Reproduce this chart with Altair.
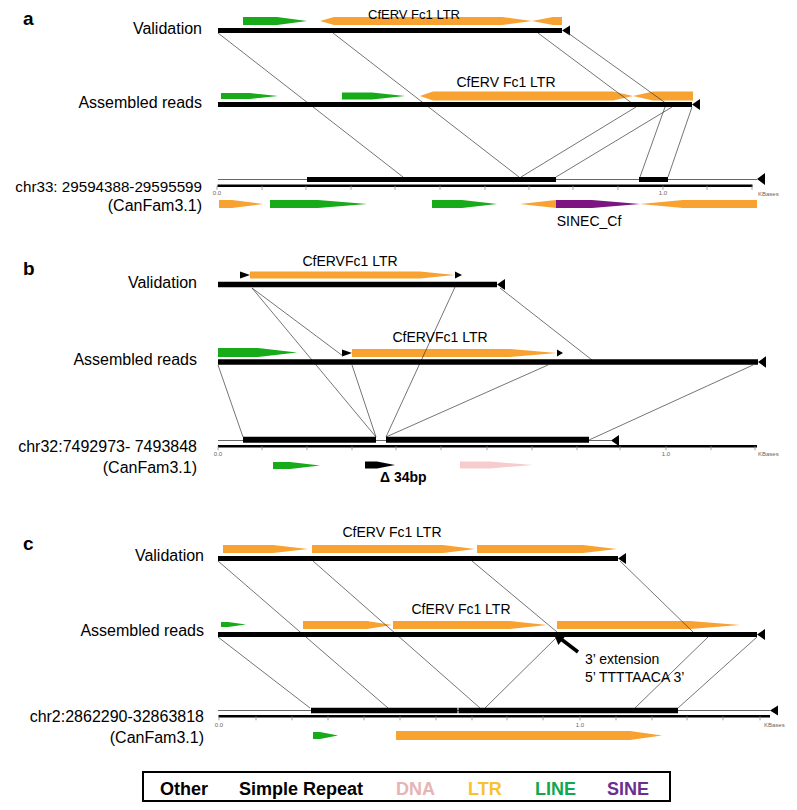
import altair as alt
import pandas as pd

FONT = "Liberation Sans"
W, H = 781, 794
XS = alt.Scale(domain=[8, 789], nice=False, zero=False)
YS = alt.Scale(domain=[8, 802], nice=False, zero=False, reverse=True)

ORANGE = "#f8a231"
GREEN = "#17ab1a"
PURPLE = "#7c1580"
PINK = "#f7cccc"
BLACK = "#000000"

# ---------------- data (figure coordinates) ----------------
# repeat annotation arrows: colour, centre line, x break points, half heights
ARROW_COLOR = [GREEN, ORANGE, GREEN, GREEN, ORANGE, ORANGE, GREEN, GREEN, ORANGE, PURPLE, ORANGE,
               BLACK, ORANGE, BLACK, GREEN, BLACK, ORANGE, BLACK, GREEN, BLACK, PINK,
               ORANGE, ORANGE, ORANGE, GREEN, ORANGE, ORANGE, ORANGE, GREEN, ORANGE]
ARROW_YC = [21, 21, 96, 96, 96, 204, 204, 204, 204, 204, 204,
            275, 275, 275, 352.5, 353, 353, 353, 465.5, 465, 465,
            549, 549, 549, 624.5, 625, 625, 625, 735.5, 735.5]
ARROW_X = [[243, 277, 307], [320, 334, 502, 532, 553, 562], [221, 250, 278], [342, 372, 405],
           [420, 433, 613, 633, 653, 693], [219, 232, 263], [270, 318, 367], [432, 462, 497],
           [520, 556], [556, 592, 640], [640, 683, 757],
           [240, 250], [250, 420, 455], [455, 462], [218, 258, 297], [342, 352], [352, 510, 557],
           [557, 563], [273, 290, 320], [365, 377, 395], [460, 490, 533],
           [223, 273, 308], [312, 443, 475], [477, 583, 617], [221, 228, 246], [303, 367, 392],
           [393, 510, 547], [557, 690, 740], [313, 320, 338], [396, 630, 662]]
ARROW_HALF = [[4, 4, 0], [0, 4, 4, 0, 4, 4], [3, 3, 0], [3.5, 3.5, 0],
              [0, 4.5, 4.5, 0, 4.5, 4.5], [4, 4, 0], [4, 4, 0], [4, 4, 0],
              [0, 4], [4, 4, 0], [0, 4, 4],
              [3.5, 0], [3.5, 3.5, 0], [3.5, 0], [4.5, 4.5, 0], [3.5, 0], [4, 4, 0],
              [3.5, 0], [3.5, 3.5, 0], [3.5, 3.5, 0], [3.5, 3.5, 0],
              [4, 4, 0], [4, 4, 0], [4, 4, 0], [2.5, 2.5, 0], [4, 4, 0],
              [4, 4, 0], [4, 4, 0], [3.5, 3.5, 0], [4.5, 4.5, 0]]

# end-of-sequence markers (left pointing triangles): tip x, centre y, half height
END_TIP_X = [562, 692, 757, 497, 758, 611, 618, 757, 770]
END_YC = [30.5, 104.5, 179, 284.5, 362, 440.5, 558.5, 634.5, 710.5]
END_HALF = [5, 5.5, 6, 5.5, 5.8, 5.5, 5.5, 5.5, 5]
END_LEN = 8

# thick sequence bars: start, end, centre y, half thickness
BAR_X1 = [218, 218, 307, 639, 218, 218, 243, 386, 218, 218, 311, 458.5]
BAR_X2 = [562, 692, 556, 668, 497, 758, 376, 589, 618, 757, 457.5, 678]
BAR_YC = [30.5, 104.5, 179.5, 179.5, 284.5, 362, 439.7, 439.7, 558.5, 634.5, 710.5, 710.5]
BAR_HALF = [2.5, 2.5, 2.5, 2.5, 2.8, 2.8, 3, 3, 2.5, 2.5, 2.8, 2.8]

# thin genome lines
SEQ_X1 = [218, 218, 218]
SEQ_X2 = [757, 611, 770]
SEQ_Y = [179.5, 440.5, 710.5]

# rulers and ticks
RULER_X1 = [217.5, 218, 218.5]
RULER_X2 = [752.5, 757, 770]
RULER_Y = [185.8, 446.2, 716.3]
TICKS_A = [217, 262, 306, 351, 395, 440, 485, 529, 573, 618, 663, 707, 752]
TICKS_B = [218, 262, 307, 352, 396, 441, 487, 532, 577, 620, 666, 711, 755]
TICKS_C = [219, 256, 292, 328, 364, 400, 436, 472, 507, 543, 580, 616, 652, 687, 723, 760]
TICK_LABELS = ["0.0", "1.0", "0.0", "1.0", "0.0", "1.0"]
TICK_LABEL_X = [217, 663, 218, 666, 219, 580]
TICK_LABEL_Y = [193, 193, 454, 454, 725, 725]
KB_X = [758, 758, 764]
KB_Y = [193.5, 454, 725]

# alignment links
LINK_X1 = [218, 333, 538, 568, 636, 672, 665, 692,
           252, 252, 455, 500, 218, 352, 548, 753,
           218, 313, 472, 620, 218, 557, 708, 757]
LINK_Y1 = [33, 33, 33, 33, 107, 107, 107, 107,
           288, 288, 287, 288, 365, 365, 365, 365,
           561, 561, 561, 561, 637, 637, 637, 637]
LINK_X2 = [403, 519, 633, 667, 521, 556, 640, 668,
           343, 376, 386, 592, 243, 376, 386, 589,
           388, 480, 557, 693, 310, 485, 635, 678]
LINK_Y2 = [177, 177, 104, 104, 177, 177, 177, 177,
           356, 437, 437, 360, 437, 437, 437, 440,
           708, 708, 632, 632, 708, 708, 708, 708]

# texts
PANEL_LETTERS = ["a", "b", "c"]
PANEL_X = [23, 23, 23]
PANEL_Y = [25, 275, 550]       # baselines

TRACK_LABELS = ["Validation", "Assembled reads", "chr33: 29594388-29595599", "(CanFam3.1)",
                "Validation", "Assembled reads", "chr32:7492973- 7493848", "(CanFam3.1)",
                "Validation", "Assembled reads", "chr2:2862290-32863818", "(CanFam3.1)"]
TRACK_X = [202, 202, 202, 202, 197, 197, 197, 197, 204, 204, 204, 204]
TRACK_Y = [29, 103, 187, 206, 283, 360, 447, 468, 556, 631, 717, 738]
TRACK_SIZE = [16, 16, 15.2, 16, 16, 16, 16, 16, 16, 16, 16, 16]

# first label sits at the very top edge: drawn with a top baseline
TOP_LABEL = ["CfERV Fc1 LTR"]
TOP_LABEL_X = [414]
TOP_LABEL_Y = [8.5]

REPEAT_LABELS = ["CfERV Fc1 LTR", "SINEC_Cf", "CfERVFc1 LTR", "CfERVFc1 LTR",
                 "CfERV Fc1 LTR", "CfERV Fc1 LTR"]
REPEAT_X = [506, 589, 350, 440, 392, 461]
REPEAT_Y = [83, 222, 262, 338, 533, 610]

NOTE_LABELS = ["3\u2019 extension", "5\u2019 TTTTAACA 3\u2019"]
NOTE_X = [585, 585]
NOTE_Y = [660, 678]

DELTA_LABEL = ["\u0394 34bp"]
DELTA_X = [380]
DELTA_Y = [478]

LEGEND_LABELS = ["Other", "Simple Repeat", "DNA", "LTR", "LINE", "SINE"]
LEGEND_COLORS = ["#000000", "#000000", "#e6b4b4", "#f7c22c", "#14a84e", "#6b2f90"]
LEGEND_X = [160, 239, 396, 468, 535, 607]
LEGEND_Y = 790
LEGEND_BOX = [143, 670, 772, 801]

EXT_ARROW = [578, 652, 561, 639]   # shaft: tail x, tail y, head x, head y
EXT_HEAD = [558, 638]


# ---------------- helpers ----------------
def X(f, **kw):
    return alt.X(f, type="quantitative", scale=XS, axis=None, **kw)


def Y(f, **kw):
    return alt.Y(f, type="quantitative", scale=YS, axis=None, **kw)


# arrow polygons
rows = []
for i, (c, yc, xs, hs) in enumerate(zip(ARROW_COLOR, ARROW_YC, ARROW_X, ARROW_HALF)):
    for x, h in zip(xs, hs):
        rows.append({"id": f"a{i}", "x": x, "top": yc - h, "bot": yc + h, "color": c})
for i, (tx, yc, h) in enumerate(zip(END_TIP_X, END_YC, END_HALF)):
    rows.append({"id": f"e{i}", "x": tx, "top": yc, "bot": yc, "color": BLACK})
    rows.append({"id": f"e{i}", "x": tx + END_LEN, "top": yc - h, "bot": yc + h, "color": BLACK})
arrows_df = pd.DataFrame(rows)

bars_df = pd.DataFrame({"x1": BAR_X1, "x2": BAR_X2,
                        "y1": [y - h for y, h in zip(BAR_YC, BAR_HALF)],
                        "y2": [y + h for y, h in zip(BAR_YC, BAR_HALF)]})
seq_df = pd.DataFrame({"x1": SEQ_X1, "x2": SEQ_X2, "y": SEQ_Y})
ruler_df = pd.DataFrame({"x1": RULER_X1, "x2": RULER_X2, "y": RULER_Y})
tick_rows = []
for ticks, ry in zip([TICKS_A, TICKS_B, TICKS_C], RULER_Y):
    for t in ticks:
        tick_rows.append({"x": t, "y1": ry, "y2": ry + 4})
ticks_df = pd.DataFrame(tick_rows)
links_df = pd.DataFrame({"x1": LINK_X1, "y1": LINK_Y1, "x2": LINK_X2, "y2": LINK_Y2})


def text_layer(texts, xs, ys, size, align, weight="normal", color="#000000", colors=None,
               baseline="middle", sizes=None):
    df = pd.DataFrame({"text": texts, "x": xs, "y": ys,
                       "color": colors if colors is not None else [color] * len(texts),
                       "size": sizes if sizes is not None else [size] * len(texts)})
    return alt.Chart(df).mark_text(align=align, baseline=baseline, font=FONT,
                                   fontWeight=weight).encode(
        x=X("x"), y=Y("y"), text="text:N", color=alt.Color("color:N", scale=None),
        size=alt.Size("size:Q", scale=None))


layers = []
layers.append(alt.Chart(seq_df).mark_rule(color="#666666", strokeWidth=1).encode(
    x=X("x1"), x2=alt.X2("x2"), y=Y("y")))
layers.append(alt.Chart(arrows_df).mark_area(strokeWidth=0, interpolate="linear").encode(
    x=X("x"), y=Y("top", stack=None), y2=alt.Y2("bot"),
    color=alt.Color("color:N", scale=None), detail="id:N"))
layers.append(alt.Chart(links_df).mark_rule(color="#3a3a3a", strokeWidth=0.7).encode(
    x=X("x1"), y=Y("y1"), x2=alt.X2("x2"), y2=alt.Y2("y2")))
layers.append(alt.Chart(bars_df).mark_rect(color="#000000").encode(
    x=X("x1"), x2=alt.X2("x2"), y=Y("y1"), y2=alt.Y2("y2")))
layers.append(alt.Chart(ruler_df).mark_rule(color="#000000", strokeWidth=2.5).encode(
    x=X("x1"), x2=alt.X2("x2"), y=Y("y")))
layers.append(alt.Chart(ticks_df).mark_rule(color="#888888", strokeWidth=0.8).encode(
    x=X("x"), y=Y("y1"), y2=alt.Y2("y2")))

# texts
layers.append(text_layer(PANEL_LETTERS, PANEL_X, PANEL_Y, 19, "left", "bold", baseline="alphabetic"))
layers.append(text_layer(TRACK_LABELS, TRACK_X, TRACK_Y, 16, "right", sizes=TRACK_SIZE))
layers.append(text_layer(TOP_LABEL, TOP_LABEL_X, TOP_LABEL_Y, 13, "center", baseline="top"))
layers.append(text_layer(REPEAT_LABELS, REPEAT_X, REPEAT_Y, 14, "center"))
layers.append(text_layer(NOTE_LABELS, NOTE_X, NOTE_Y, 14, "left"))
layers.append(text_layer(DELTA_LABEL, DELTA_X, DELTA_Y, 14, "left", "bold"))
layers.append(text_layer(TICK_LABELS, TICK_LABEL_X, TICK_LABEL_Y, 6, "center", color="#666666"))
layers.append(text_layer(["KBases"] * 3, KB_X, KB_Y, 6, "left", color="#666666"))

# extension arrow
ext_df = pd.DataFrame({"x1": [EXT_ARROW[0]], "y1": [EXT_ARROW[1]], "x2": [EXT_ARROW[2]], "y2": [EXT_ARROW[3]]})
layers.append(alt.Chart(ext_df).mark_rule(color="#000000", strokeWidth=3.5).encode(
    x=X("x1"), y=Y("y1"), x2=alt.X2("x2"), y2=alt.Y2("y2")))
head_df = pd.DataFrame({"x": [EXT_HEAD[0]], "y": [EXT_HEAD[1]]})
layers.append(alt.Chart(head_df).mark_point(shape="triangle-up", filled=True, color="#000000",
                                            size=110, angle=308, opacity=1).encode(
    x=X("x"), y=Y("y")))

# legend
box_df = pd.DataFrame({"x1": [LEGEND_BOX[0]], "x2": [LEGEND_BOX[1]],
                       "y1": [LEGEND_BOX[2]], "y2": [LEGEND_BOX[3]]})
layers.append(alt.Chart(box_df).mark_rect(fill="white", stroke="#000000", strokeWidth=2).encode(
    x=X("x1"), x2=alt.X2("x2"), y=Y("y1"), y2=alt.Y2("y2")))
layers.append(text_layer(LEGEND_LABELS, LEGEND_X, [LEGEND_Y] * len(LEGEND_LABELS), 18, "left",
                         "bold", colors=LEGEND_COLORS))

chart = alt.layer(*layers).properties(
    width=W, height=H, padding=0, autosize=alt.AutoSizeParams(type="none"),
    background="white"
).configure_view(stroke=None)

chart.save("out.html", embed_options={"renderer": "svg", "actions": False})
